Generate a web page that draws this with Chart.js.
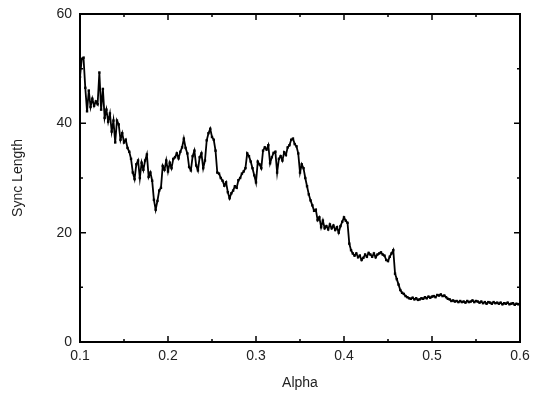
<!DOCTYPE html>
<html>
<head>
<meta charset="utf-8">
<script src="https://cdn.jsdelivr.net/npm/chart.js@4/dist/chart.umd.min.js"></script>
<style>
  html, body { margin: 0; padding: 0; background: #fff; }
  #wrap { width: 538px; height: 395px; }
</style>
</head>
<body>
<div id="wrap"><canvas id="chart" width="538" height="395"></canvas></div>
<script>
// alpha values (x)
const alpha = [
  0.100,0.102,0.104,0.106,0.108,0.110,0.112,0.114,0.116,0.118,
  0.120,0.122,0.124,0.126,0.128,0.130,0.132,0.134,0.136,0.138,
  0.140,0.142,0.144,0.146,0.148,0.150,0.152,0.154,0.156,0.158,
  0.160,0.162,0.164,0.166,0.168,0.170,0.172,0.174,0.176,0.178,
  0.180,0.182,0.184,0.186,0.188,0.190,0.192,0.194,0.196,0.198,
  0.200,0.202,0.204,0.206,0.208,0.210,0.212,0.214,0.216,0.218,
  0.220,0.222,0.224,0.226,0.228,0.230,0.232,0.234,0.236,0.238,
  0.240,0.242,0.244,0.246,0.248,0.250,0.252,0.254,0.256,0.258,
  0.260,0.262,0.264,0.266,0.268,0.270,0.272,0.274,0.276,0.278,
  0.280,0.282,0.284,0.286,0.288,0.290,0.292,0.294,0.296,0.298,
  0.300,0.302,0.304,0.306,0.308,0.310,0.312,0.314,0.316,0.318,
  0.320,0.322,0.324,0.326,0.328,0.330,0.332,0.334,0.336,0.338,
  0.340,0.342,0.344,0.346,0.348,0.350,0.352,0.354,0.356,0.358,
  0.360,0.362,0.364,0.366,0.368,0.370,0.372,0.374,0.376,0.378,
  0.380,0.382,0.384,0.386,0.388,0.390,0.392,0.394,0.396,0.398,
  0.400,0.402,0.404,0.406,0.408,0.410,0.412,0.414,0.416,0.418,
  0.420,0.422,0.424,0.426,0.428,0.430,0.432,0.434,0.436,0.438,
  0.440,0.442,0.444,0.446,0.448,0.450,0.452,0.454,0.456,0.458,
  0.460,0.462,0.464,0.466,0.468,0.470,0.472,0.474,0.476,0.478,
  0.480,0.482,0.484,0.486,0.488,0.490,0.492,0.494,0.496,0.498,
  0.500,0.502,0.504,0.506,0.508,0.510,0.512,0.514,0.516,0.518,
  0.520,0.522,0.524,0.526,0.528,0.530,0.532,0.534,0.536,0.538,
  0.540,0.542,0.544,0.546,0.548,0.550,0.552,0.554,0.556,0.558,
  0.560,0.562,0.564,0.566,0.568,0.570,0.572,0.574,0.576,0.578,
  0.580,0.582,0.584,0.586,0.588,0.590,0.592,0.594,0.596,0.598,
  0.600
];

// sync length (y)
const syncLength = [
  48.5,51.8,52.0,46.5,42.2,46.0,43.0,44.5,43.2,44.0,
  43.5,49.3,42.5,46.3,41.0,42.5,40.3,41.8,38.5,40.5,
  36.5,40.5,39.8,37.0,38.2,36.5,37.0,35.5,34.8,33.5,
  31.0,29.8,32.5,33.2,30.0,32.8,31.5,33.2,34.3,30.2,
  31.0,29.5,26.0,24.2,25.8,27.7,28.2,32.2,31.5,33.2,
  31.2,32.8,31.8,33.5,33.8,34.5,33.6,34.8,35.6,37.2,
  35.5,34.5,32.0,31.4,34.0,35.0,32.3,31.4,33.8,34.5,
  31.8,33.2,36.9,38.2,39.0,37.5,37.0,35.0,31.0,30.8,
  30.0,29.5,28.6,29.2,27.4,26.3,27.2,27.7,28.5,28.2,
  29.6,30.0,30.8,31.2,31.8,34.5,34.0,33.0,31.8,30.5,
  29.2,33.0,32.5,31.8,35.0,35.6,35.2,36.0,32.7,33.8,
  34.6,34.8,31.0,33.5,34.0,33.2,34.7,34.2,35.6,36.0,
  37.0,37.2,36.2,35.8,34.5,31.0,32.5,31.8,30.0,28.5,
  27.0,25.9,25.0,24.0,24.2,22.3,22.8,21.0,22.2,20.8,
  21.2,20.6,21.5,20.8,21.3,20.5,21.0,20.0,21.2,22.0,
  22.8,22.2,21.8,18.0,16.8,16.2,15.8,16.2,15.5,15.8,
  15.0,15.4,16.0,15.6,16.3,16.0,15.6,16.2,15.5,16.0,
  16.2,16.4,16.0,15.8,15.0,14.8,15.6,16.2,16.8,12.5,
  11.5,10.5,9.5,9.0,8.8,8.4,8.2,8.0,7.9,8.1,
  7.8,8.0,7.7,7.8,8.0,7.9,8.2,8.0,8.3,8.1,
  8.3,8.4,8.2,8.6,8.5,8.7,8.4,8.5,8.2,7.9,
  7.8,7.5,7.6,7.4,7.5,7.3,7.5,7.3,7.4,7.2,
  7.5,7.3,7.4,7.6,7.3,7.5,7.4,7.2,7.4,7.1,
  7.3,7.0,7.3,7.2,7.0,7.3,7.1,7.2,7.0,7.2,
  6.9,7.1,7.0,7.2,6.9,7.0,7.1,6.8,7.0,6.9,
  7.0
];

const xMajor = [0.1, 0.2, 0.3, 0.4, 0.5, 0.6];
const xMinor = [0.15, 0.25, 0.35, 0.45, 0.55];
const yMajor = [0, 20, 40, 60];
const yMinor = [10, 30, 50];

const points = alpha.map((a, i) => ({ x: a, y: syncLength[i] }));

// frame + inward ticks on all four sides
const frame = {
  id: 'frame',
  afterDatasetsDraw(chart) {
    const { ctx, chartArea: a, scales: { x, y } } = chart;
    ctx.save();
    ctx.strokeStyle = '#000';
    ctx.lineWidth = 2;
    ctx.strokeRect(a.left, a.top, a.right - a.left, a.bottom - a.top);
    ctx.lineWidth = 1.5;
    ctx.beginPath();
    const tx = (v, len) => {
      const p = x.getPixelForValue(v);
      ctx.moveTo(p, a.bottom); ctx.lineTo(p, a.bottom - len);
      ctx.moveTo(p, a.top); ctx.lineTo(p, a.top + len);
    };
    const ty = (v, len) => {
      const p = y.getPixelForValue(v);
      ctx.moveTo(a.left, p); ctx.lineTo(a.left + len, p);
      ctx.moveTo(a.right, p); ctx.lineTo(a.right - len, p);
    };
    xMajor.forEach(v => tx(v, 6));
    xMinor.forEach(v => tx(v, 3));
    yMajor.forEach(v => ty(v, 6));
    yMinor.forEach(v => ty(v, 3));
    ctx.stroke();
    ctx.restore();
  }
};

const font = { family: 'Liberation Sans, Arial, sans-serif', size: 14 };

new Chart(document.getElementById('chart'), {
  type: 'line',
  data: {
    datasets: [{
      data: points,
      borderColor: '#000',
      backgroundColor: '#000',
      borderWidth: 1.8,
      pointStyle: 'rect',
      pointRadius: 1.7,
      pointBorderWidth: 0,
      tension: 0
    }]
  },
  options: {
    responsive: false,
    animation: false,
    layout: { padding: { top: 14, right: 18, left: 0, bottom: 0 } },
    plugins: { legend: { display: false }, tooltip: { enabled: false } },
    scales: {
      x: {
        type: 'linear',
        min: 0.1, max: 0.6,
        afterBuildTicks: s => { s.ticks = xMajor.map(v => ({ value: v })); },
        afterFit: s => { s.height = 53; s.paddingLeft = 0; s.paddingRight = 0; },
        grid: { display: false, drawTicks: false },
        border: { display: false },
        ticks: { color: '#222', font, padding: 6, maxRotation: 0,
                 callback: v => v.toFixed(1) },
        title: { display: true, text: 'Alpha', color: '#222', font, padding: { top: 4, bottom: 3 } }
      },
      y: {
        min: 0, max: 60,
        afterBuildTicks: s => { s.ticks = yMajor.map(v => ({ value: v })); },
        afterFit: s => { s.width = 80; s.paddingTop = 0; s.paddingBottom = 0; },
        grid: { display: false, drawTicks: false },
        border: { display: false },
        ticks: { color: '#222', font, padding: 8, callback: v => String(v) },
        title: { display: true, text: 'Sync Length', color: '#222', font, padding: { top: 10, bottom: 4 } }
      }
    }
  },
  plugins: [frame]
});
</script>
</body>
</html>
